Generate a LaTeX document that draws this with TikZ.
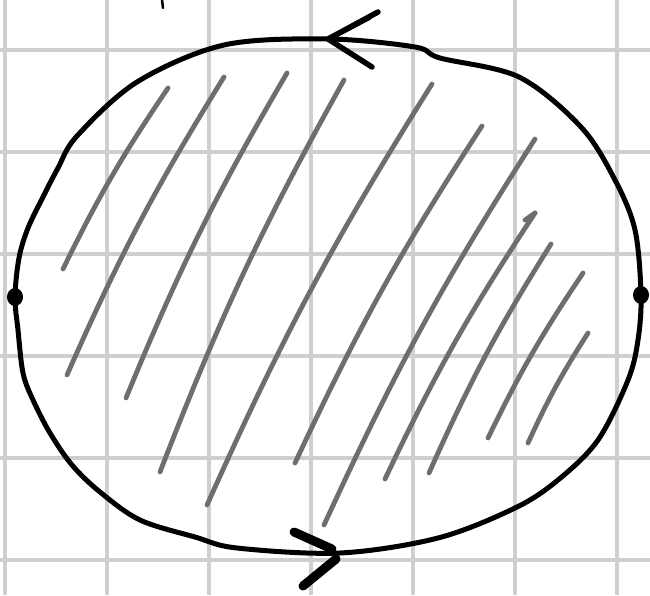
\documentclass[tikz,border=0pt]{standalone}
\usetikzlibrary{positioning,shapes.geometric}

\begin{document}
\begin{tikzpicture}[x=1pt,y=-1pt,
  gridline/.style={draw=black!19,line width=3.2pt},
  rim/.style={draw=black,line width=5pt,line join=round},
  hatch/.style={draw=black!57,line width=4.8pt,line cap=round,line join=round},
  barb/.style={draw=black,line width=5.5pt,line cap=round,line join=round},
  spot/.style={ellipse,fill=black,inner sep=0pt,minimum width=16pt,minimum height=18pt}]
\useasboundingbox (0,0) rectangle (650,595);
% squared paper
\foreach \x in {5,107,...,617} \draw[gridline] (\x,0)--(\x,595);
\foreach \y in {50,152,...,560} \draw[gridline] (0,\y)--(650,\y);
% hatching
\foreach \p/\q in {{63,269}/{168,88},{67,375}/{224,77},{126,398}/{287,73},
  {160,472}/{344,80},{207,505}/{432,84},{295,463}/{482,126},{324,525}/{535,139},
  {385,479}/{535,213},{429,473}/{551,244},{488,438}/{583,273},{528,443}/{588,333}}
  \draw[hatch] (\p) to[bend left=4] (\q);
\draw[hatch] (535,213)--(525,220);
% the closed curve
\coordinate (west) at (15,297);
\coordinate (east) at (641,295);
\coordinate (top) at (328,39);
\coordinate (bottom) at (340,553);
\draw[rim] plot[smooth cycle,tension=0.55] coordinates {
  (west) (19,258) (28,228) (43,197) (58,168) (77,136) (137,82) (224,45) (top)
  (415,47) (440,58) (519,77) (581,127) (615,180) (635,230) (east)
  (638,340) (628,380) (598,440) (558,480) (515,508) (438,538) (bottom)
  (237,548) (195,537) (140,520) (100,492) (72,465) (50,433) (33,400) (23,373) (18,330)};
% direction marks
\draw[barb] (378,12)--(top)--(372,67);
\draw[barb,line width=3.5pt] (370,18)--(332,38);
\draw[barb,line width=9pt] (294,532)--(332,549);
\draw[barb,line width=9pt] (336,559)--(303,586);
% marked points
\node[spot] (a) at (west) {};
\node[spot] (b) at (east) {};
\draw[line width=2.5pt,line cap=round] (162,0)--(163,8);
\end{tikzpicture}
\end{document}
